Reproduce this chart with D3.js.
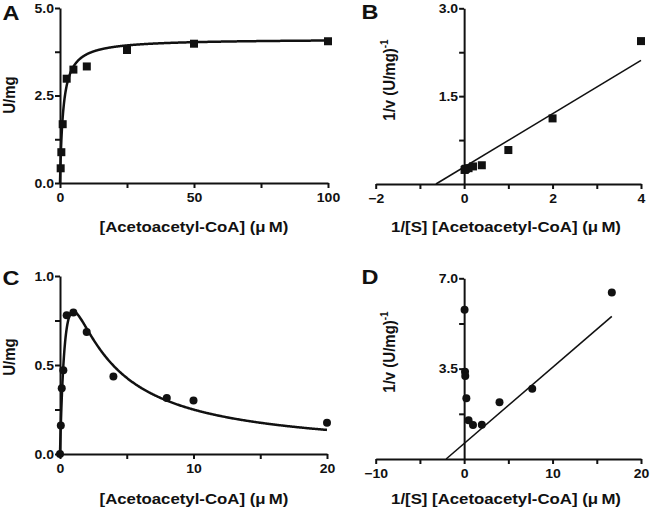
<!DOCTYPE html>
<html><head><meta charset="utf-8">
<script src="https://cdn.jsdelivr.net/npm/d3@7"></script>
<style>
html,body{margin:0;padding:0;background:#fff;}
svg text{font-family:"Liberation Sans",Arial,Helvetica,sans-serif;font-weight:bold;fill:#111;}
</style></head>
<body>
<svg id="chart" width="650" height="513"></svg>
<script>
// ---- Data ----
// Panel A: Michaelis-Menten
const aConc = [0.25, 0.5, 1, 2.5, 5, 10, 25, 50, 100];
const aRate = [0.42, 0.88, 1.68, 2.98, 3.24, 3.33, 3.8, 3.98, 4.05];
const aFit = {Vmax: 4.12, Km: 1.2};
// Panel B: Lineweaver-Burk
const bInvS = [0.01, 0.02, 0.04, 0.1, 0.2, 0.4, 1, 2, 4];
const bInvV = [0.24, 0.25, 0.26, 0.27, 0.3, 0.32, 0.58, 1.12, 2.44];
const bFit = {slope: 0.455, intercept: 0.29, xEnd: 4};
// Panel C: substrate inhibition
const cConc = [0, 0.06, 0.13, 0.25, 0.5, 1, 2, 4, 8, 10, 20];
const cRate = [0, 0.16, 0.37, 0.47, 0.78, 0.795, 0.685, 0.435, 0.315, 0.3, 0.175];
const cFit = {Vmax: 1.76, Km: 0.6, Ki: 1.67};
// Panel D: Lineweaver-Burk
const dInvS = [0.05, 0.1, 0.125, 0.25, 0.5, 1, 2, 4, 7.7, 16.7];
const dInvV = [5.78, 3.38, 3.22, 2.35, 1.5, 1.32, 1.33, 2.2, 2.72, 6.45];
const dFit = {slope: 0.295, intercept: 0.6, xEnd: 16.7};

// tick labels
const aXTicks = [0, 50, 100], aXMinor = [25, 75];
const aYTicks = [0, 2.5, 5], aYMinor = [1.25, 3.75];
const bXTicks = [-2, 0, 2, 4], bXMinor = [-1, 1, 3];
const bYTicks = [1.5, 3], bYMinor = [0.75, 2.25];
const cXTicks = [0, 10, 20], cXMinor = [5, 15];
const cYTicks = [0, 0.5, 1], cYMinor = [0.25, 0.75];
const dXTicks = [-10, 0, 10, 20], dXMinor = [-5, 5, 15];
const dYTicks = [3.5, 7], dYMinor = [1.75, 5.25];

const SX = 1.12; // horizontal stretch of the lettering
const svg = d3.select("#chart");

function axes(g, x, y, o) {
  const x0 = x(o.yAxisAt), y0 = y(0);
  const xa = g.append("g").attr("transform", `translate(0,${y0})`)
    .call(d3.axisBottom(x).tickValues(o.xTicks).tickSize(5).tickSizeOuter(0).tickFormat(d3.format("d")));
  g.append("g").attr("transform", `translate(0,${y0})`)
    .call(d3.axisBottom(x).tickValues(o.xMinor).tickSize(5).tickSizeOuter(0).tickFormat(""))
    .select(".domain").remove();
  const ya = g.append("g").attr("transform", `translate(${x0},0)`)
    .call(d3.axisLeft(y).tickValues(o.yTicks).tickSize(5).tickSizeOuter(0).tickFormat(d3.format(".1f")));
  g.append("g").attr("transform", `translate(${x0},0)`)
    .call(d3.axisLeft(y).tickValues(o.yMinor).tickSize(5).tickSizeOuter(0).tickFormat(""))
    .select(".domain").remove();
  g.selectAll(".domain").attr("stroke", "#111").attr("stroke-width", 2);
  g.selectAll(".tick line").attr("stroke", "#111").attr("stroke-width", 2);
  g.selectAll(".tick text").style("font-size", "12.5px").style("font-family", '"Liberation Sans",Arial,sans-serif')
    .style("font-weight", "bold").attr("fill", "#111").attr("transform", `scale(${SX},1)`);
  xa.selectAll(".tick text").attr("y", 10);
  ya.selectAll(".tick text").attr("x", -6 / SX);
}

function label(txt, x, y, size, rot) {
  const t = svg.append("text").attr("text-anchor", "middle")
    .attr("transform", rot ? `translate(${x},${y}) scale(${SX},1) rotate(-90)` : `translate(${x},${y}) scale(${SX},1)`)
    .style("font-size", size + "px").text(txt);
  return t;
}

function recipYLabel(x, y) {
  const t = svg.append("text").attr("transform", `translate(${x},${y}) scale(${SX},1) rotate(-90)`)
    .attr("text-anchor", "middle").style("font-size", "15px");
  t.append("tspan").text("1/v  (U/mg)");
  t.append("tspan").attr("dy", -6).style("font-size", "10px").text("-1");
  return t;
}

const unitTitle = "[Acetoacetyl-CoA] (\u03bc\u2009M)";
const recipTitle = "1/[S] [Acetoacetyl-CoA] (\u03bc\u2009M)";

// ---- Panel A ----
{
  const x = d3.scaleLinear().domain([0, 100]).range([60, 328]);
  const y = d3.scaleLinear().domain([0, 5]).range([183, 8]);
  const g = svg.append("g");
  axes(g, x, y, {yAxisAt: 0, xTicks: aXTicks, xMinor: aXMinor, yTicks: aYTicks, yMinor: aYMinor});
  const xs = d3.range(0, 100.01, 0.1);
  g.append("path").datum(xs)
    .attr("d", d3.line().x(d => x(d)).y(d => y(aFit.Vmax * d / (aFit.Km + d))))
    .attr("fill", "none").attr("stroke", "#111").attr("stroke-width", 2.5);
  g.selectAll("rect.pt").data(aConc).join("rect").attr("class", "pt")
    .attr("x", (d) => x(d) - 4).attr("y", (d, i) => y(aRate[i]) - 4)
    .attr("width", 8).attr("height", 8).attr("fill", "#111");
  label("A", 11, 20, 21);
  label("U/mg", 15, 95, 15, true);
  label(unitTitle, 194, 232, 15);
}

// ---- Panel B ----
{
  const x = d3.scaleLinear().domain([-2, 4]).range([375.7, 641]);
  const y = d3.scaleLinear().domain([0, 3]).range([184, 8.3]);
  const g = svg.append("g");
  axes(g, x, y, {yAxisAt: 0, xTicks: bXTicks, xMinor: bXMinor, yTicks: bYTicks, yMinor: bYMinor});
  const x1 = -bFit.intercept / bFit.slope;
  g.append("line").attr("x1", x(x1)).attr("y1", y(0))
    .attr("x2", x(bFit.xEnd)).attr("y2", y(bFit.intercept + bFit.slope * bFit.xEnd))
    .attr("stroke", "#111").attr("stroke-width", 1.6);
  g.selectAll("rect.pt").data(bInvS).join("rect").attr("class", "pt")
    .attr("x", (d) => x(d) - 4).attr("y", (d, i) => y(bInvV[i]) - 4)
    .attr("width", 8).attr("height", 8).attr("fill", "#111");
  label("B", 370, 19, 21);
  recipYLabel(395, 80);
  label(recipTitle, 506, 232, 15);
}

// ---- Panel C ----
{
  const x = d3.scaleLinear().domain([0, 20]).range([60, 327]);
  const y = d3.scaleLinear().domain([0, 1]).range([454, 276]);
  const g = svg.append("g");
  axes(g, x, y, {yAxisAt: 0, xTicks: cXTicks, xMinor: cXMinor, yTicks: cYTicks, yMinor: cYMinor});
  const xs = d3.range(0, 1, 0.005).concat(d3.range(1, 20.01, 0.05));
  g.append("path").datum(xs)
    .attr("d", d3.line().x(d => x(d)).y(d => y(cFit.Vmax * d / (cFit.Km + d + d * d / cFit.Ki))))
    .attr("fill", "none").attr("stroke", "#111").attr("stroke-width", 2.5);
  g.selectAll("circle.pt").data(cConc).join("circle").attr("class", "pt")
    .attr("cx", (d) => x(d)).attr("cy", (d, i) => y(cRate[i])).attr("r", 4).attr("fill", "#111");
  label("C", 11, 285, 21);
  label("U/mg", 15, 357, 15, true);
  label(unitTitle, 194, 504, 15);
}

// ---- Panel D ----
{
  const x = d3.scaleLinear().domain([-10, 20]).range([375.7, 641]);
  const y = d3.scaleLinear().domain([0, 7]).range([459, 278.3]);
  const g = svg.append("g");
  axes(g, x, y, {yAxisAt: 0, xTicks: dXTicks, xMinor: dXMinor, yTicks: dYTicks, yMinor: dYMinor});
  const x1 = -dFit.intercept / dFit.slope;
  g.append("line").attr("x1", x(x1)).attr("y1", y(0))
    .attr("x2", x(dFit.xEnd)).attr("y2", y(dFit.intercept + dFit.slope * dFit.xEnd))
    .attr("stroke", "#111").attr("stroke-width", 1.6);
  g.selectAll("circle.pt").data(dInvS).join("circle").attr("class", "pt")
    .attr("cx", (d) => x(d)).attr("cy", (d, i) => y(dInvV[i])).attr("r", 4).attr("fill", "#111");
  label("D", 370, 284, 21);
  recipYLabel(395, 352);
  label(recipTitle, 506, 504, 15);
}
</script>
</body></html>
